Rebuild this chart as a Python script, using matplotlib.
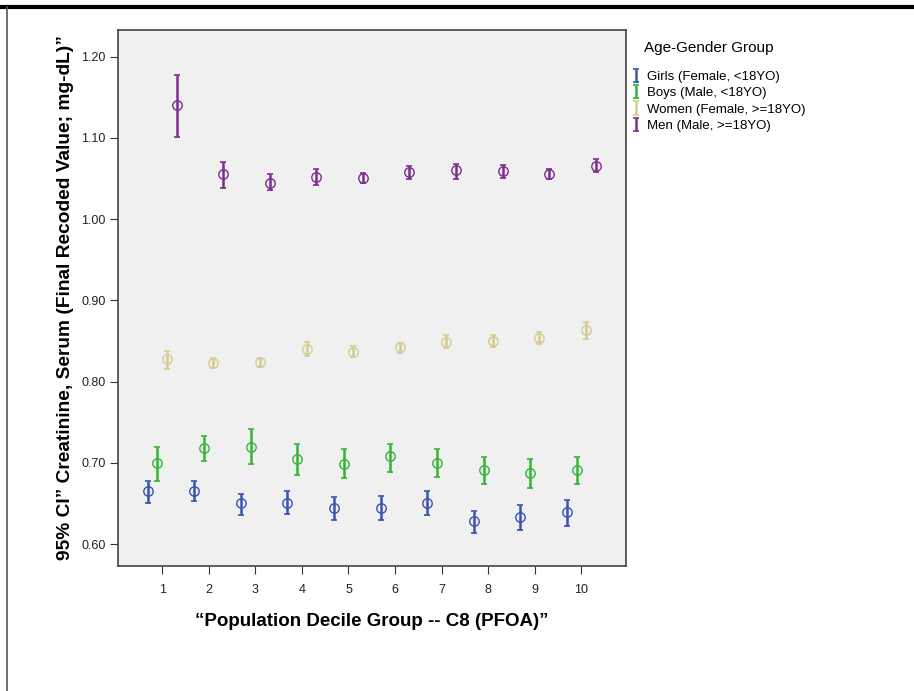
import matplotlib
matplotlib.use("Agg")
import matplotlib.pyplot as plt
from matplotlib.lines import Line2D
import numpy as np

plt.rcParams['font.family'] = ['Liberation Sans', 'DejaVu Sans']

deciles = [1, 2, 3, 4, 5, 6, 7, 8, 9, 10]
groups = ["Girls (Female, <18YO)", "Boys (Male, <18YO)",
          "Women (Female, >=18YO)", "Men (Male, >=18YO)"]
colors = ["#3A52B2", "#34B534", "#D4CC90", "#7D2D8E"]

girls_mean = [0.665, 0.665, 0.650, 0.651, 0.644, 0.644, 0.651, 0.628, 0.633, 0.639]
girls_lo   = [0.651, 0.653, 0.636, 0.637, 0.630, 0.630, 0.636, 0.614, 0.617, 0.622]
girls_hi   = [0.677, 0.677, 0.662, 0.665, 0.658, 0.659, 0.665, 0.641, 0.648, 0.654]

boys_mean = [0.700, 0.718, 0.719, 0.705, 0.698, 0.708, 0.700, 0.691, 0.688, 0.691]
boys_lo   = [0.678, 0.702, 0.698, 0.685, 0.681, 0.689, 0.683, 0.674, 0.669, 0.674]
boys_hi   = [0.720, 0.733, 0.742, 0.723, 0.717, 0.723, 0.717, 0.707, 0.705, 0.707]

women_mean = [0.828, 0.823, 0.824, 0.840, 0.837, 0.842, 0.849, 0.850, 0.854, 0.864]
women_lo   = [0.815, 0.817, 0.818, 0.832, 0.830, 0.835, 0.841, 0.843, 0.846, 0.852]
women_hi   = [0.838, 0.829, 0.829, 0.849, 0.844, 0.848, 0.857, 0.857, 0.861, 0.873]

men_mean = [1.140, 1.055, 1.045, 1.052, 1.051, 1.058, 1.060, 1.059, 1.056, 1.066]
men_lo   = [1.101, 1.038, 1.036, 1.042, 1.044, 1.050, 1.050, 1.051, 1.049, 1.058]
men_hi   = [1.177, 1.070, 1.056, 1.062, 1.057, 1.066, 1.068, 1.067, 1.062, 1.074]

means = [girls_mean, boys_mean, women_mean, men_mean]
lows = [girls_lo, boys_lo, women_lo, men_lo]
highs = [girls_hi, boys_hi, women_hi, men_hi]
offsets = [-0.31, -0.10, 0.10, 0.31]

yticks = [0.60, 0.70, 0.80, 0.90, 1.00, 1.10, 1.20]

fig = plt.figure(figsize=(9.14, 6.91), dpi=100)
fig.patch.set_facecolor("white")
ax = fig.add_axes([0.129, 0.181, 0.556, 0.7757])
ax.set_facecolor("#F0F0F0")

handles = []
for name, col, m, lo, hi, off in zip(groups, colors, means, lows, highs, offsets):
    x = np.array(deciles) + off
    m = np.array(m)
    yerr = np.vstack([m - np.array(lo), np.array(hi) - m])
    h = ax.errorbar(x, m, yerr=yerr, fmt='none', ecolor=col, elinewidth=1.8,
                    capsize=2.2, capthick=1.2, label=name, zorder=3)
    ax.plot(x, m, linestyle='none', marker='o', markersize=6.8,
            markerfacecolor='none', markeredgecolor=col, markeredgewidth=1.0,
            zorder=4)
    handles.append(h)

ax.set_xlim(0.05, 10.96)
ax.set_ylim(0.573, 1.233)
ax.set_xticks(deciles)
ax.set_xticklabels([str(d) for d in deciles])
ax.set_yticks(yticks)
ax.set_yticklabels([f"{v:.2f}" for v in yticks])
ax.tick_params(axis='both', direction='out', length=6, width=0.8,
               labelsize=9, color="#333333", labelcolor="#222222", pad=3)
ax.tick_params(axis='x', pad=7)

for s in ax.spines.values():
    s.set_color("#444444")
    s.set_linewidth(1.2)

ax.set_xlabel("\u201cPopulation Decile Group -- C8 (PFOA)\u201d",
              fontsize=13.5, fontweight='bold', labelpad=12)
ax.set_ylabel("95% CI\u201d Creatinine, Serum (Final Recoded Value; mg-dL)\u201d",
              fontsize=13.8, fontweight='bold', labelpad=5)

leg = fig.legend(handles=handles, labels=groups, loc='upper left',
                 bbox_to_anchor=(0.686, 0.948), frameon=False,
                 title="Age-Gender Group", title_fontsize=11, fontsize=9.5,
                 handlelength=0.6, handletextpad=0.5, labelspacing=0.32,
                 borderaxespad=0.0)
leg._legend_box.align = "left"
leg.get_title().set_position((12, 0))
leg._legend_box.sep = 11

# page frame: heavy top rule and thin left rule
fig.add_artist(Line2D([0.0, 1.0], [0.9895, 0.9895], transform=fig.transFigure,
                      color="black", linewidth=3))
fig.add_artist(Line2D([0.0072, 0.0072], [0.0, 0.9895], transform=fig.transFigure,
                      color="#555555", linewidth=1.2))

fig.savefig("out.png", dpi=100)
